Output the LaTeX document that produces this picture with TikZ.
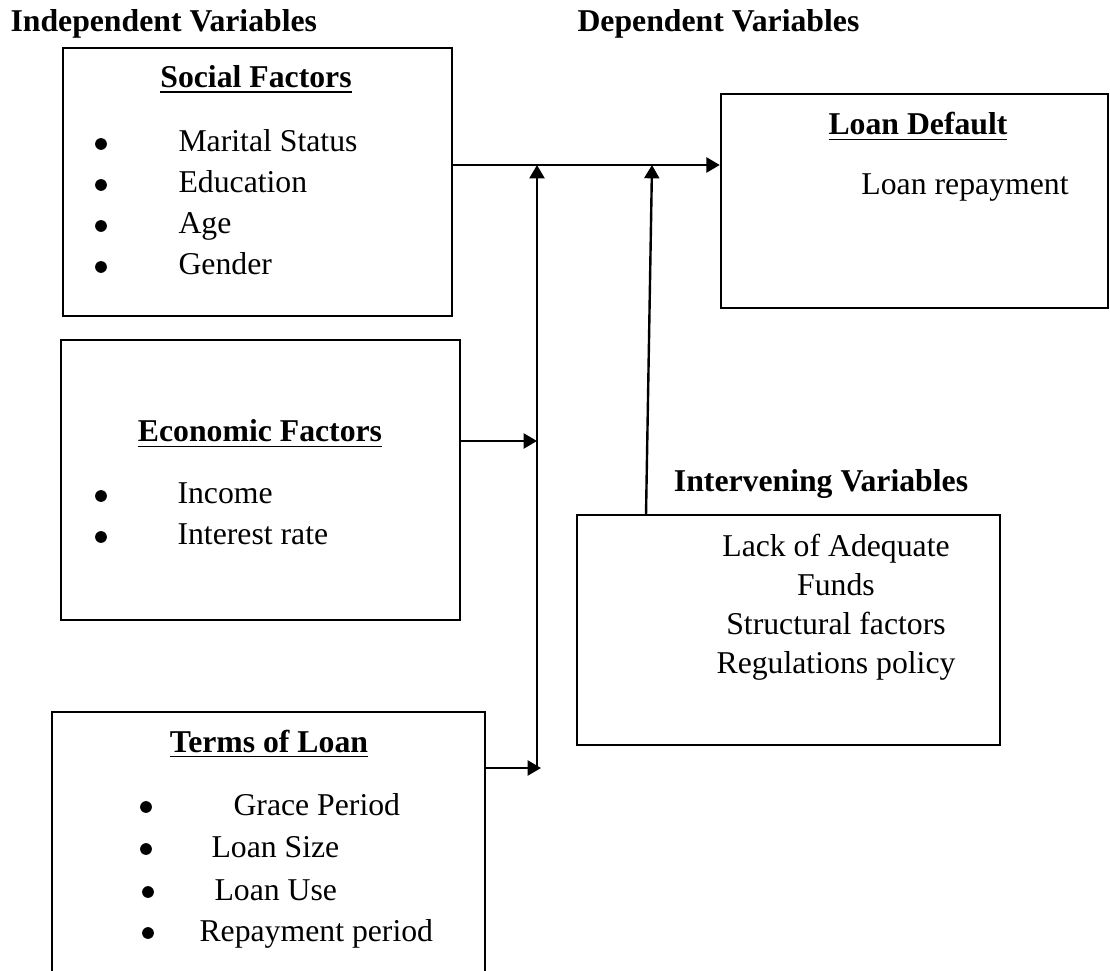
\documentclass[tikz,border=0pt]{standalone}
\usepackage{fontspec}
\setmainfont{Liberation Serif}
\usetikzlibrary{arrows.meta,fit}

\begin{document}
\begin{tikzpicture}[
					x = 0.375pt, y = -0.375pt,
					every node/.style = {font = \fontsize{11.9pt}{14pt}\selectfont, inner sep = 0pt},
					box/.style = {draw, line width = 0.9pt, inner sep = 0pt},
					head/.style = {font = \fontsize{11.9pt}{14pt}\selectfont\bfseries},
					item/.style = {anchor = base west},
					dot/.style = {circle, fill, minimum size = 4.4pt},
					arr/.style = {line width = 0.9pt, -{Triangle[length=5pt,width=5.6pt]}}]

					\useasboundingbox (0,0) rectangle (1110,971);

					\node[head,anchor=base west] (indep) at (10,32) {Independent Variables};
					\node[head,anchor=base west] (dep) at (577,32) {Dependent Variables};

					\node[box,fit={(63,48) (452,316)}] (social) {};
					\node[head,anchor=base] (socialT) at (256,88) {\underline{Social Factors}};
					\node[dot] (s1b) at (101,144) {}; \node[item] (s1) at (178,152) {Marital Status};
					\node[dot] (s2b) at (101,185) {}; \node[item] (s2) at (178,193) {Education};
					\node[dot] (s3b) at (101,226) {}; \node[item] (s3) at (178,234) {Age};
					\node[dot] (s4b) at (101,267) {}; \node[item] (s4) at (178,275) {Gender};

					\node[box,fit={(61,340) (460,620)}] (eco) {};
					\node[head,anchor=base] (ecoT) at (260,442) {\underline{Economic Factors}};
					\node[dot] (e1b) at (101,496) {}; \node[item] (e1) at (177,504) {Income};
					\node[dot] (e2b) at (101,537) {}; \node[item] (e2) at (177,545) {Interest rate};

					\node[box,fit={(52,712) (485,1000)}] (terms) {};
					\node[head,anchor=base] (termsT) at (269,752) {\underline{Terms of Loan}};
					\node[dot] (t1b) at (146,807) {}; \node[item] (t1) at (233,815) {Grace Period};
					\node[dot] (t2b) at (146,849) {}; \node[item] (t2) at (211,857) {Loan Size};
					\node[dot] (t3b) at (148,892) {}; \node[item] (t3) at (214,900) {Loan Use};
					\node[dot] (t4b) at (148,933) {}; \node[item] (t4) at (199,941) {Repayment period};

					\node[box,fit={(721,94) (1108,308)}] (loan) {};
					\node[head,anchor=base] (loanT) at (918,135) {\underline{Loan Default}};
					\node[anchor=base] (loan1) at (965,195) {Loan repayment};

					\node[head,anchor=base] (interT) at (821,492) {Intervening Variables};
					\node[box,fit={(577,515) (1000,745)}] (inter) {};
					\node[anchor=base] (i1) at (836,556) {Lack of Adequate};
					\node[anchor=base] (i2) at (836,595) {Funds};
					\node[anchor=base] (i3) at (836,634) {Structural factors};
					\node[anchor=base] (i4) at (836,673) {Regulations policy};

					\coordinate (top1) at (537,165);
					\coordinate (top2) at (652,165);
					\coordinate (mid1) at (537,441);
					\coordinate (low1) at (537,768);
					\coordinate (ivfoot) at (646,515);

					\draw[arr] (social.east |- top1) -- (loan.west |- top1);
					\draw[arr] (eco.east |- mid1) -- (mid1);
					\draw[arr] (terms.east |- low1) -- ([xshift=1.5pt]low1);
					\draw[arr] (low1) -- (top1);
					\draw[arr] (ivfoot) -- (top2);

				\end{tikzpicture}
\end{document}
